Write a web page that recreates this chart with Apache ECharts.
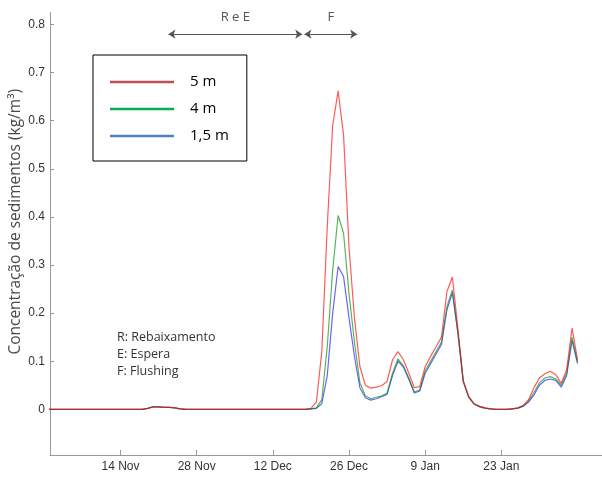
<!DOCTYPE html>
<html>
<head>
<meta charset="utf-8">
<script src="https://cdn.jsdelivr.net/npm/echarts@6/dist/echarts.min.js"></script>
<style>
  html, body { margin: 0; padding: 0; background: #fff; }
  #main { width: 602px; height: 478px; }
</style>
</head>
<body>
<div id="main"></div>
<script>
// days are counted from 14 Nov (day 0); first sample is 31 Oct
const firstDay = -14
const tickDays = [0, 14, 28, 42, 56, 70]
const tickLabels = ['14 Nov', '28 Nov', '12 Dec', '26 Dec', '9 Jan', '23 Jan']
const yTicks = [0, 0.1, 0.2, 0.3, 0.4, 0.5, 0.6, 0.7, 0.8]

// 31 Oct .. 18 Dec, same for the three depths
const preFlush = [
  0, 0, 0, 0, 0, 0, 0, 0, 0, 0, 0, 0, 0, 0, 0, 0, 0, 0, 0,
  0.002, 0.005, 0.005, 0.004, 0.004, 0.003, 0.001,
  0, 0, 0, 0, 0, 0, 0, 0, 0, 0, 0, 0, 0, 0, 0, 0, 0, 0, 0, 0, 0, 0, 0
]
// 19 Dec .. 6 Feb
const conc5m = [
  0.002, 0.015, 0.12, 0.38, 0.59, 0.662, 0.57, 0.337, 0.19, 0.089,
  0.05, 0.044, 0.046, 0.049, 0.058, 0.103, 0.12, 0.103, 0.075, 0.045,
  0.047, 0.089, 0.11, 0.13, 0.15, 0.245, 0.275, 0.17, 0.06, 0.027,
  0.011, 0.006, 0.003, 0.001, 0, 0, 0, 0.001, 0.003, 0.008,
  0.02, 0.045, 0.065, 0.074, 0.079, 0.072, 0.054, 0.082, 0.169, 0.103
]
const conc4m = [
  0.001, 0.003, 0.02, 0.13, 0.29, 0.403, 0.366, 0.24, 0.14, 0.055,
  0.028, 0.022, 0.025, 0.028, 0.034, 0.075, 0.105, 0.09, 0.065, 0.036,
  0.04, 0.08, 0.1, 0.12, 0.14, 0.214, 0.248, 0.16, 0.058, 0.026,
  0.011, 0.006, 0.003, 0.001, 0, 0, 0, 0.001, 0.003, 0.007,
  0.017, 0.035, 0.055, 0.065, 0.068, 0.063, 0.05, 0.075, 0.15, 0.098
]
const conc15m = [
  0.001, 0.002, 0.012, 0.07, 0.2, 0.297, 0.276, 0.19, 0.11, 0.045,
  0.024, 0.019, 0.022, 0.026, 0.031, 0.07, 0.1, 0.088, 0.062, 0.034,
  0.038, 0.075, 0.095, 0.115, 0.135, 0.207, 0.242, 0.16, 0.057, 0.025,
  0.011, 0.005, 0.002, 0.001, 0, 0, 0, 0.001, 0.002, 0.006,
  0.015, 0.03, 0.05, 0.06, 0.063, 0.06, 0.046, 0.07, 0.143, 0.095
]

// periods drawn as arrows above the curves
const phases = [
  { name: 'R e E', from: 8.8, to: 33.4 },
  { name: 'F', from: 33.8, to: 43.5 }
]
const arrowLevel = 0.78

const toPoints = (vals) => preFlush.concat(vals).map((v, i) => [firstDay + i, v])

const myChart = echarts.init(document.getElementById('main'))

const sansFont = 'Open Sans'
const axisFont = 'Liberation Sans'

myChart.setOption({
  animation: false,
  grid: { left: 50, right: 0, top: 12.5, bottom: 23, containLabel: false, outerBoundsMode: 'none' },
  legend: {
    orient: 'vertical',
    left: 93,
    top: 55,
    padding: [18, 18, 16, 17],
    borderColor: '#000',
    borderWidth: 1,
    icon: 'rect',
    itemWidth: 64,
    itemHeight: 2.5,
    itemGap: 9,
    selectedMode: false,
    textStyle: { fontFamily: sansFont, fontSize: 15, lineHeight: 18, color: '#000', padding: [0, 0, 0, 11] },
    data: [
      { name: '5 m', itemStyle: { color: '#C0504D' } },
      { name: '4 m', itemStyle: { color: '#00B050' } },
      { name: '1,5 m', itemStyle: { color: '#4F81BD' } }
    ]
  },
  xAxis: {
    type: 'value',
    min: -12.96,
    max: 88.5,
    splitLine: { show: false },
    axisLine: { onZero: false, lineStyle: { color: '#999', width: 1 } },
    axisTick: { inside: true, length: 5, customValues: tickDays, lineStyle: { color: '#999' } },
    axisLabel: {
      customValues: tickDays,
      margin: 6,
      color: '#333',
      fontSize: 12,
      fontFamily: axisFont,
      formatter: (v) => tickLabels[tickDays.indexOf(v)]
    }
  },
  yAxis: {
    type: 'value',
    min: -0.095,
    max: 0.825,
    name: 'Concentração de sedimentos (kg/m³)',
    nameLocation: 'middle',
    nameRotate: 90,
    nameGap: 26,
    nameMoveOverlap: false,
    nameTextStyle: { fontFamily: sansFont, fontSize: 15.5, color: '#4a4a4a', padding: [0, 0, 0, 24] },
    splitLine: { show: false },
    axisLine: { show: true, onZero: false, lineStyle: { color: '#999', width: 1 } },
    axisTick: { show: true, inside: true, length: 4, customValues: yTicks, lineStyle: { color: '#999' } },
    axisLabel: {
      customValues: yTicks,
      margin: 5,
      color: '#333',
      fontSize: 12,
      fontFamily: axisFont,
      formatter: (v) => (v === 0 ? '0' : v.toFixed(1))
    }
  },
  graphic: [{
    type: 'text',
    left: 117,
    top: 329,
    style: {
      text: 'R: Rebaixamento\nE: Espera\nF: Flushing',
      font: '12.5px "Open Sans"',
      lineHeight: 17,
      fill: '#333'
    }
  }],
  series: [
    {
      name: '5 m',
      type: 'line',
      z: 4,
      symbol: 'none',
      data: toPoints(conc5m),
      lineStyle: { color: 'rgba(255,0,0,0.65)', width: 1.2 },
      itemStyle: { color: 'rgba(255,0,0,0.65)' },
      markLine: {
        silent: true,
        symbol: ['arrow', 'arrow'],
        symbolSize: 7,
        lineStyle: { color: '#555', width: 1, type: 'solid' },
        label: {
          show: true,
          position: 'middle',
          distance: 10,
          color: '#555',
          fontSize: 13,
          fontFamily: sansFont,
          formatter: (p) => p.name
        },
        data: phases.map((p) => [
          { name: p.name, coord: [p.from, arrowLevel] },
          { coord: [p.to, arrowLevel] }
        ])
      }
    },
    {
      name: '4 m',
      type: 'line',
      z: 3,
      symbol: 'none',
      data: toPoints(conc4m),
      lineStyle: { color: 'rgba(0,140,0,0.65)', width: 1.2 },
      itemStyle: { color: 'rgba(0,140,0,0.65)' }
    },
    {
      name: '1,5 m',
      type: 'line',
      z: 2,
      symbol: 'none',
      data: toPoints(conc15m),
      lineStyle: { color: 'rgba(0,0,255,0.6)', width: 1.2 },
      itemStyle: { color: 'rgba(0,0,255,0.6)' }
    }
  ]
})
</script>
</body>
</html>
